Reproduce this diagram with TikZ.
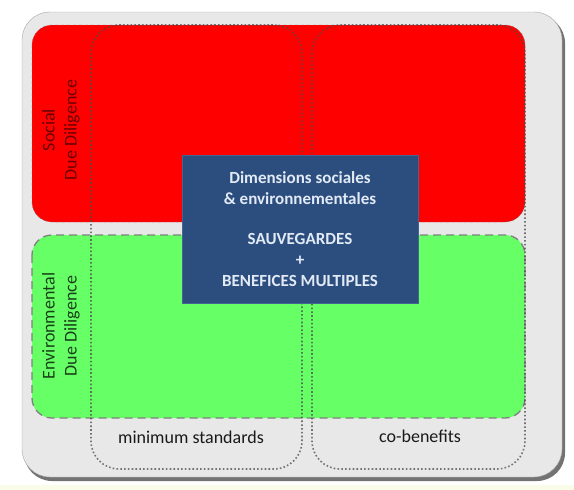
\documentclass[tikz,border=0pt]{standalone}
\usepackage{fontspec}
\setmainfont{Carlito}
\definecolor{framegray}{RGB}{232,232,232}
\definecolor{socialred}{RGB}{255,0,0}
\definecolor{envgreen}{RGB}{102,255,102}
\definecolor{boxblue}{RGB}{44,78,126}
\definecolor{boxedge}{RGB}{70,100,145}
\definecolor{boxtext}{RGB}{226,234,246}
\definecolor{darkred}{RGB}{105,0,0}
\definecolor{darkgreen}{RGB}{25,65,25}
\definecolor{stripcol}{RGB}{248,252,232}
\begin{document}
\begin{tikzpicture}[x=1pt, y=-1pt]
    \useasboundingbox (0,0) rectangle (574,490);
    \fill[stripcol] (0,485) rectangle (574,490);

    % Outer frame with shadow
    \fill[black!55, rounded corners=28pt] (24,15) rectangle (565,481);
    \draw[black!35, fill=framegray, rounded corners=28pt] (22,12) rectangle (562,477);

    % Social and environmental bands
    \draw[dashed, black!55, fill=socialred, rounded corners=20pt] (32,25) rectangle (525,222);
    \draw[black!50, line width=1.3pt, dash pattern=on 8pt off 5pt, fill=envgreen, rounded corners=20pt] (32,235) rectangle (525,418);

    % Columns: minimum standards / co-benefits
    \draw[black!70, line width=1.6pt, dash pattern=on 1.6pt off 2.2pt, draw opacity=0.75, rounded corners=28pt] (91,25) rectangle (302,469);
    \draw[black!70, line width=1.6pt, dash pattern=on 1.6pt off 2.2pt, draw opacity=0.75, rounded corners=28pt] (312,25) rectangle (525,469);

    \node[font=\fontsize{18}{22}\selectfont, text=black!90] (minstd) at (191,437) {minimum standards};
    \node[font=\fontsize{18}{22}\selectfont, text=black!90] (cobenef) at (420,436) {co-benefits};

    % Side labels
    \node[rotate=90, align=center, text=darkred, font=\fontsize{18}{22}\selectfont] (social) at (61,130) {Social\\Due Diligence};
    \node[rotate=90, align=center, text=darkgreen, font=\fontsize{18}{22}\selectfont] (environ) at (61,326) {Environmental\\Due Diligence};

    % Central box
    \node[draw=boxedge, line width=1pt, fill=boxblue, minimum width=236pt, minimum height=148pt] (centre) at (300,229) {};
    \node[align=center, text=boxtext, font=\bfseries\fontsize{17}{21}\selectfont] (dims) at (centre) {Dimensions sociales\\\& environnementales\\[19pt]SAUVEGARDES\\+\\BENEFICES MULTIPLES};
\end{tikzpicture}
\end{document}
